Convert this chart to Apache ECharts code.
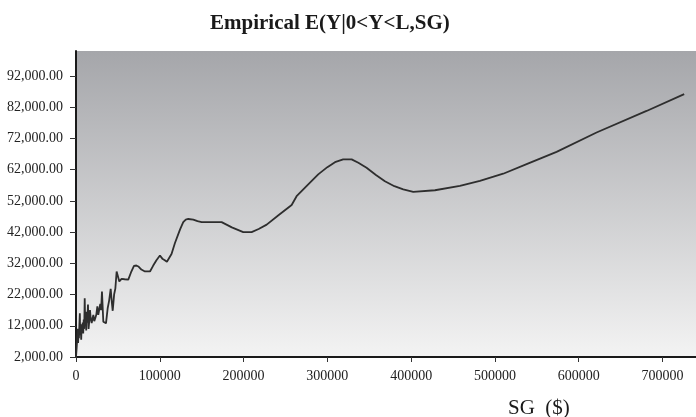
<!DOCTYPE html>
<html><head><meta charset="utf-8">
<script src="https://cdn.jsdelivr.net/npm/echarts@6/dist/echarts.min.js"></script>
<style>html,body{margin:0;padding:0;background:#fff}#c{width:696px;height:417px}</style>
</head><body><div id="c"></div>
<script>
const chartTitle = 'Empirical E(Y|0<Y<L,SG)';
const xAxisTitle = 'SG  ($)';
const xTicks = [0, 100000, 200000, 300000, 400000, 500000, 600000, 700000];
const yTicks = [2000, 12000, 22000, 32000, 42000, 52000, 62000, 72000, 82000, 92000];
const sgValues = [0,800,1500,2000,2500,3000,3500,4000,4600,5000,5600,6200,6800,7400,8000,8600,9200,9800,10400,11000,11600,12200,12800,13500,14300,15000,15800,16700,17500,18700,19700,20700,21800,23000,24200,25500,26600,27800,29000,30000,31000,32600,34000,35800,37800,39500,41400,42600,43800,45500,47000,48500,50000,51700,53000,54400,56000,58000,60000,62400,65500,69200,72000,74400,78000,82300,88300,92000,96000,100200,103000,106000,108500,110200,114000,118100,124100,128000,131000,134000,140000,145000,150000,173800,186000,199600,209600,218000,227600,242000,257400,263300,276000,289100,300000,309100,318900,329000,337000,346800,358000,368700,380000,390600,402500,428400,458200,482100,509900,540000,573600,621300,681000,725900];
const eyValues = [2000,5000,8000,11000,6500,10500,8000,12000,16000,9000,11500,7500,12500,10000,13000,9500,14000,11000,20800,12000,15500,10500,16500,13000,18800,11000,13500,17000,14500,12900,14200,15500,13500,14400,15500,18200,15500,16000,19000,17000,23000,13300,13000,12800,17600,20000,23800,20000,16800,22000,24000,29400,29800,26200,26500,27000,27500,26900,27000,26800,29000,31200,31300,31000,30000,29400,29400,31200,33000,34500,33500,33000,32500,32400,35000,38500,42800,45200,46000,46200,46000,45500,45200,45200,43500,42000,42000,43000,44400,47500,50700,53500,57000,60500,62800,64400,65300,65300,64200,62600,60300,58300,56700,55700,54900,55400,56800,58400,60700,64000,67700,73900,80800,86200];

const chart = echarts.init(document.getElementById('c'), null, {renderer: 'canvas'});
const serif = '"Liberation Serif","DejaVu Serif",serif';
chart.setOption({
  animation: false,
  backgroundColor: '#ffffff',
  title: [
    {text: chartTitle, left: 205, top: 8,
     textStyle: {fontFamily: serif, fontWeight: 'bold', fontSize: 21, color: '#1a1a1a'}},
    {text: xAxisTitle, left: 503, top: 393,
     textStyle: {fontFamily: serif, fontWeight: 'normal', fontSize: 21, color: '#1a1a1a'}}
  ],
  grid: {
    left: 76, right: 0, top: 51, bottom: 60, show: true, borderWidth: 0,
    backgroundColor: {type: 'linear', x: 0, y: 0, x2: 0, y2: 1,
      colorStops: [{offset: 0, color: '#a5a6aa'}, {offset: 1, color: '#f3f3f3'}]}
  },
  xAxis: {
    type: 'value', min: 0, max: 740000,
    axisLine: {show: true, lineStyle: {color: '#1a1a1a', width: 2}},
    axisTick: {show: true, length: 5, lineStyle: {color: '#333', width: 1}, customValues: xTicks},
    axisLabel: {fontFamily: serif, fontSize: 14, color: '#222', margin: 12, customValues: xTicks,
      formatter: v => String(v)},
    splitLine: {show: false}
  },
  yAxis: {
    type: 'value', min: 2000, max: 100000,
    axisLine: {show: true, lineStyle: {color: '#1a1a1a', width: 2}},
    axisTick: {show: true, length: 6, lineStyle: {color: '#333', width: 1}, customValues: yTicks},
    axisLabel: {fontFamily: serif, fontSize: 14, color: '#222', margin: 13, customValues: yTicks,
      formatter: v => v.toLocaleString('en-US', {minimumFractionDigits: 2, maximumFractionDigits: 2})},
    splitLine: {show: false}
  },
  series: [{
    type: 'line', data: sgValues.map((x, i) => [x, eyValues[i]]),
    showSymbol: false, smooth: false,
    lineStyle: {color: '#2e2e2e', width: 1.8}
  }]
});
</script></body></html>
